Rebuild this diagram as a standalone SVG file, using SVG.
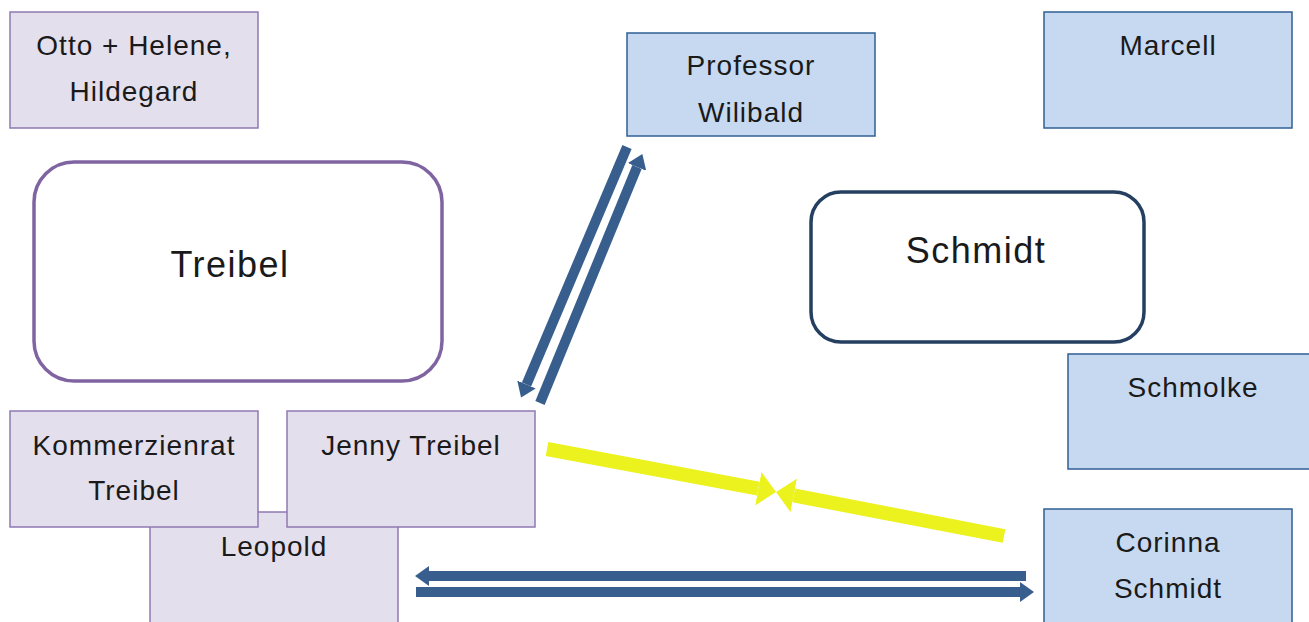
<svg xmlns="http://www.w3.org/2000/svg" width="1309" height="622" viewBox="0 0 1309 622">
<style>
.lav{fill:#e4dfec;stroke:#8e79b3;stroke-width:1.5}
.blu{fill:#c6d9f1;stroke:#2f5f92;stroke-width:1.5}
.t{font-family:"Liberation Sans",Arial,sans-serif;font-size:28px;fill:#1a1a1a;text-anchor:middle;letter-spacing:1px}
.big{font-size:36px;letter-spacing:1.5px}
.ba{stroke:#375e8d;stroke-width:10;fill:none}
.ya{stroke:#ebf21e;stroke-width:14;fill:none}
</style>
<defs>
<marker id="bh" markerUnits="userSpaceOnUse" markerWidth="14" markerHeight="20" viewBox="0 0 14 20" refX="0" refY="10" orient="auto"><path d="M0,0 L14,10 L0,20 z" fill="#375e8d"/></marker>
<marker id="yh" markerUnits="userSpaceOnUse" markerWidth="18" markerHeight="34" viewBox="0 0 18 34" refX="0" refY="17" orient="auto"><path d="M0,0 L18,17 L0,34 z" fill="#ebf21e"/></marker>
</defs>
<rect width="1309" height="622" fill="#fff"/>
<g id="leopold"><rect class="lav" x="150" y="512" width="248" height="120"/><text class="t" x="274" y="556">Leopold</text></g>
<g id="otto"><rect class="lav" x="10" y="12" width="248" height="116"/><text class="t" x="134" y="55">Otto + Helene,</text><text class="t" x="134" y="101">Hildegard</text></g>
<g id="kommerzienrat"><rect class="lav" x="10" y="411" width="248" height="116"/><text class="t" x="134" y="455">Kommerzienrat</text><text class="t" x="134" y="500">Treibel</text></g>
<g id="jenny"><rect class="lav" x="287" y="411" width="248" height="116"/><text class="t" x="411" y="455">Jenny Treibel</text></g>
<g id="treibel"><rect x="34" y="162" width="408" height="219" rx="40" fill="#fff" stroke="#8064a2" stroke-width="3.5"/><text class="t big" x="230" y="277">Treibel</text></g>
<g id="schmidt"><rect x="811" y="192" width="333" height="150" rx="30" fill="#fff" stroke="#243f60" stroke-width="3.5"/><text class="t big" x="976" y="263">Schmidt</text></g>
<g id="professor"><rect class="blu" x="627" y="33" width="248" height="103"/><text class="t" x="751" y="75">Professor</text><text class="t" x="751" y="122">Wilibald</text></g>
<g id="marcell"><rect class="blu" x="1044" y="12" width="248" height="116"/><text class="t" x="1168" y="55">Marcell</text></g>
<g id="schmolke"><rect class="blu" x="1068" y="354" width="250" height="115"/><text class="t" x="1193" y="397">Schmolke</text></g>
<g id="corinna"><rect class="blu" x="1044" y="509" width="248" height="123"/><text class="t" x="1168" y="552">Corinna</text><text class="t" x="1168" y="598">Schmidt</text></g>
<g id="connectors">
<line class="ba" x1="627" y1="147" x2="526.5" y2="384.5" marker-end="url(#bh)"/>
<line class="ba" x1="540" y1="403" x2="637" y2="167" marker-end="url(#bh)"/>
<line class="ya" x1="547" y1="449" x2="758.3" y2="488.7" marker-end="url(#yh)"/>
<line class="ya" x1="1004" y1="536" x2="793.7" y2="495.4" marker-end="url(#yh)"/>
<line class="ba" x1="1026" y1="576" x2="429" y2="576" marker-end="url(#bh)"/>
<line class="ba" x1="416" y1="592" x2="1020" y2="592" marker-end="url(#bh)"/>
</g>
</svg>
